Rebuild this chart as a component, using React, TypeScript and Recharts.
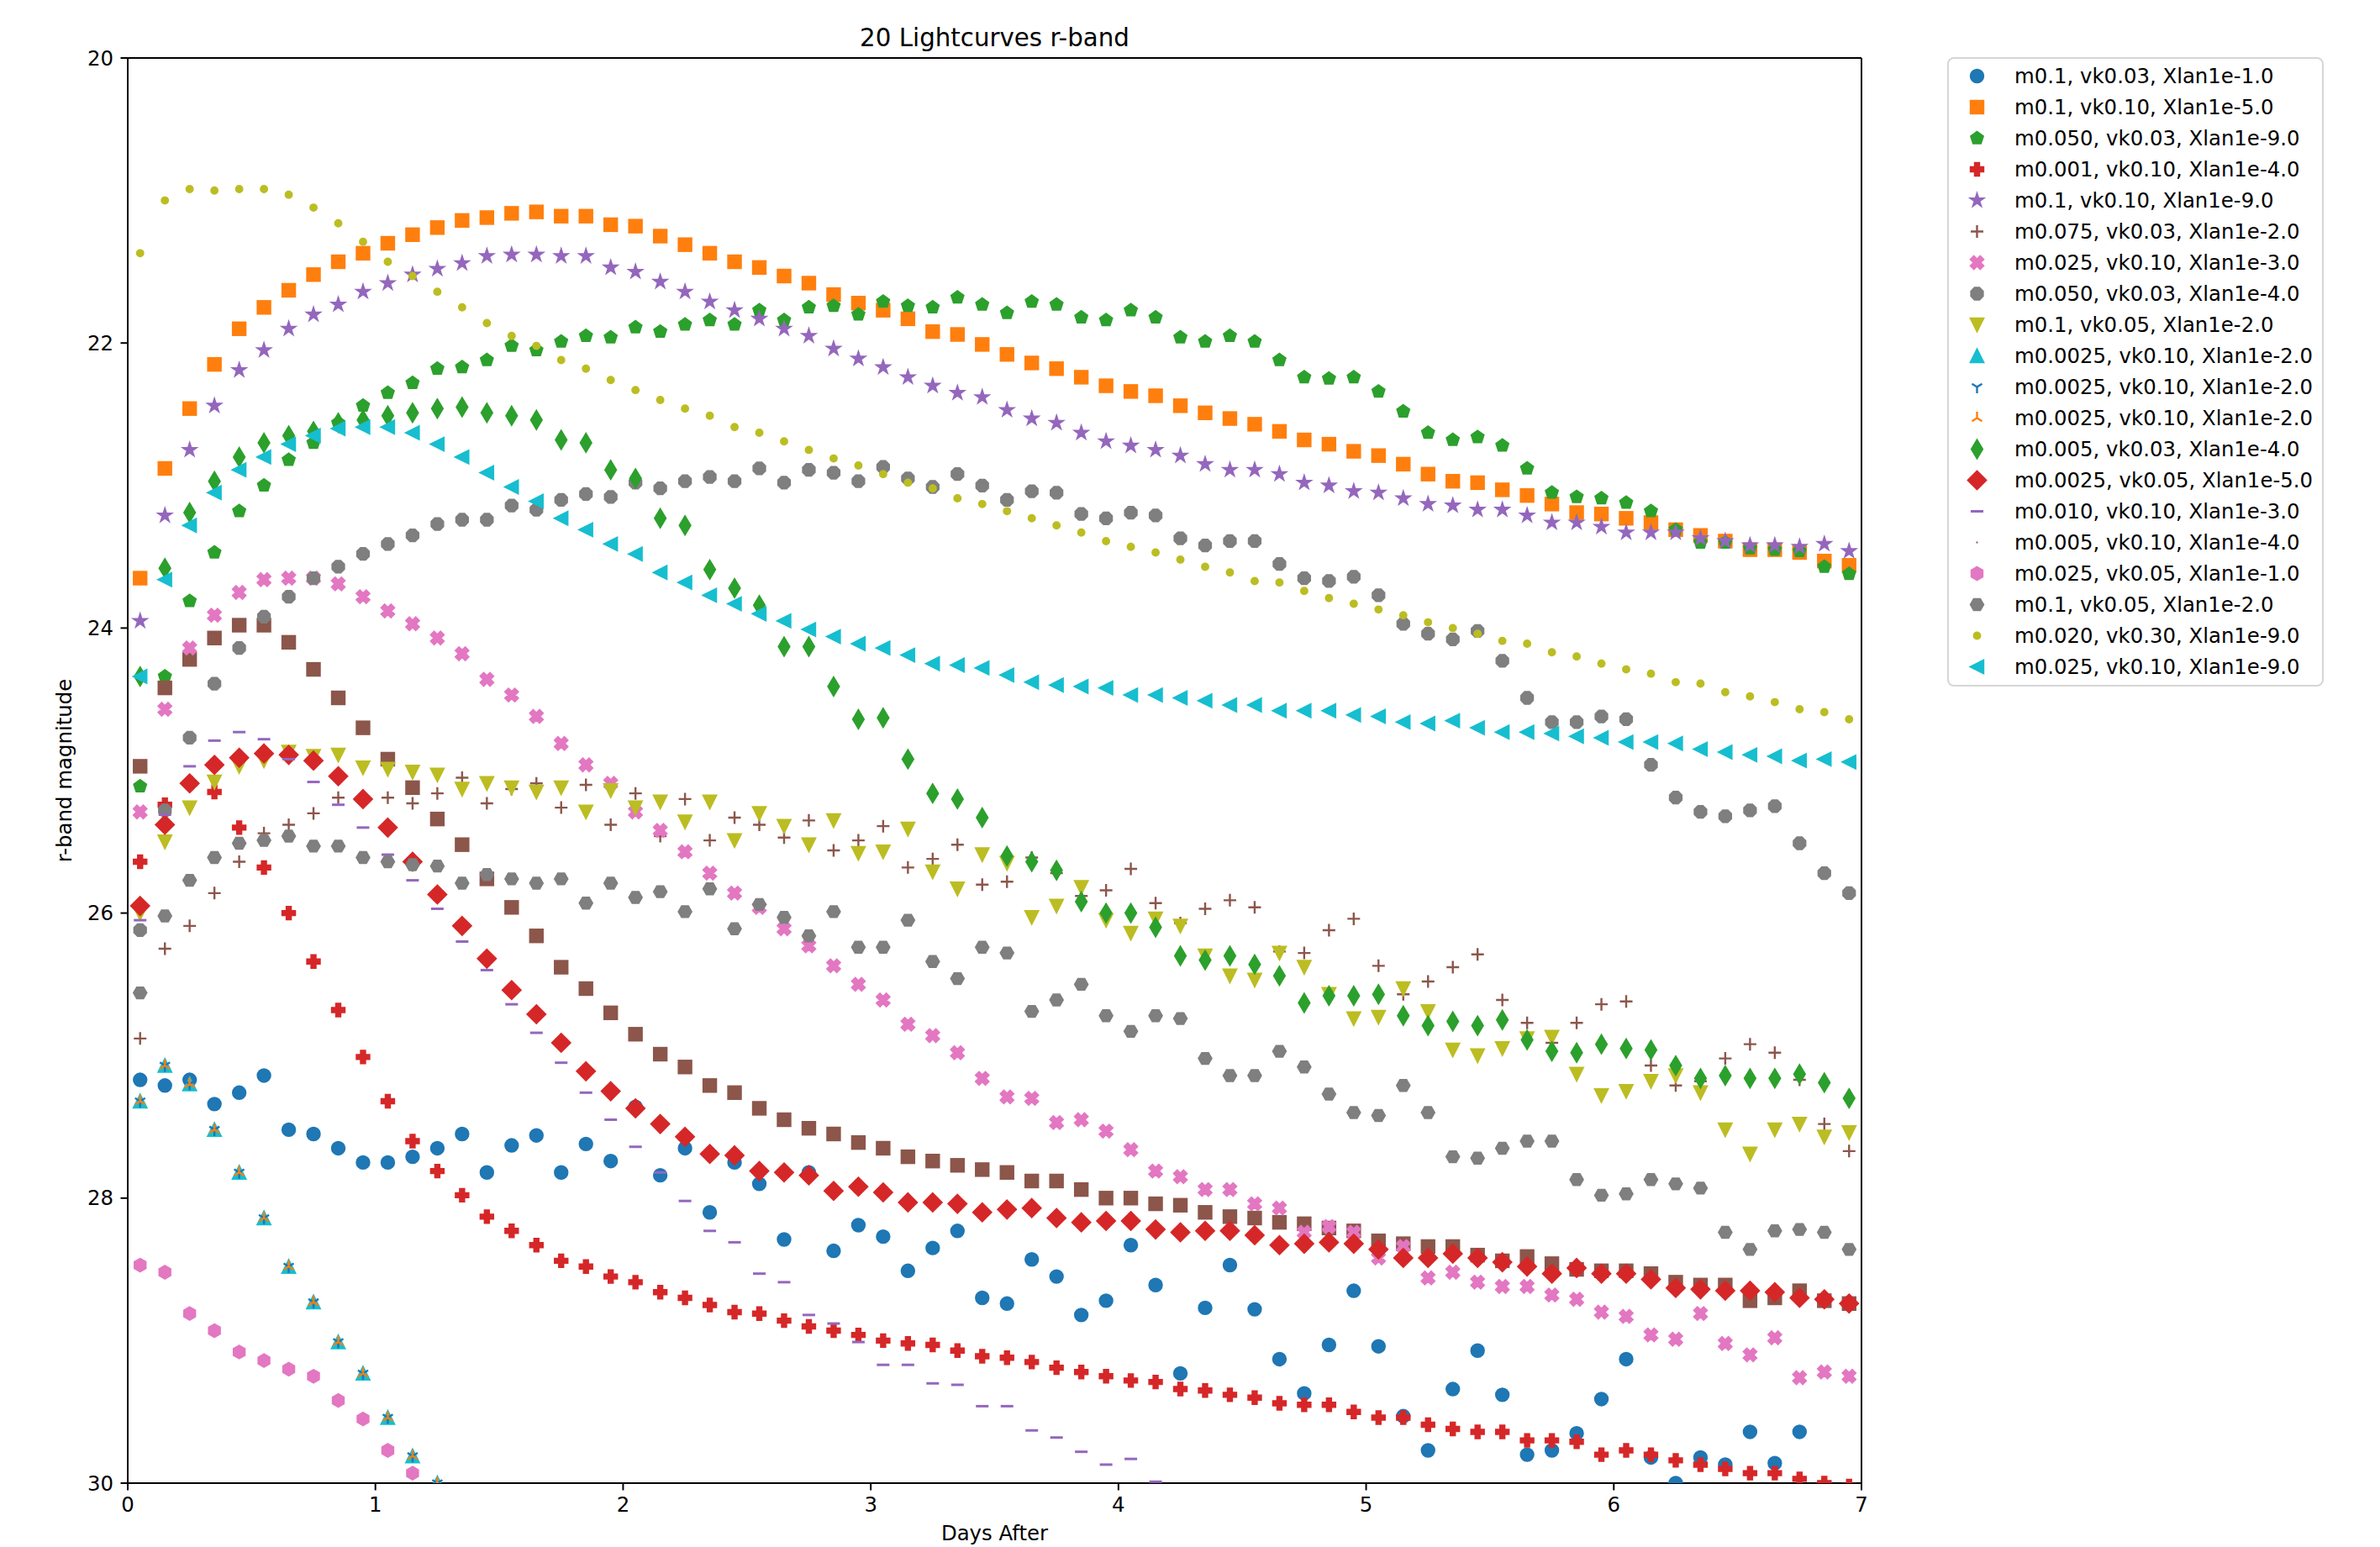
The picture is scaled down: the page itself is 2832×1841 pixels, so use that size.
import React from 'react';
import { ScatterChart, Scatter, XAxis, YAxis, ReferenceLine, Label } from 'recharts';

// sample times (days after merger)
const days = [
  0.05, 0.15, 0.25, 0.35, 0.45, 0.55, 0.65, 0.75, 0.85, 0.95,
  1.05, 1.15, 1.25, 1.35, 1.45, 1.55, 1.65, 1.75, 1.85, 1.95,
  2.05, 2.15, 2.25, 2.35, 2.45, 2.55, 2.65, 2.75, 2.85, 2.95,
  3.05, 3.15, 3.25, 3.35, 3.45, 3.55, 3.65, 3.75, 3.85, 3.95,
  4.05, 4.15, 4.25, 4.35, 4.45, 4.55, 4.65, 4.75, 4.85, 4.95,
  5.05, 5.15, 5.25, 5.35, 5.45, 5.55, 5.65, 5.75, 5.85, 5.95,
  6.05, 6.15, 6.25, 6.35, 6.45, 6.55, 6.65, 6.75, 6.85, 6.95,
];

const xTicks = [0, 1, 2, 3, 4, 5, 6, 7];
const yTicks = [20, 22, 24, 26, 28, 30];

// r-band magnitudes, one array per lightcurve (points fainter than 30 are not listed)
const m01_vk003_x1 = [
  27.17, 27.21, 27.17, 27.34, 27.26, 27.14, 27.52, 27.55, 27.65, 27.75,
  27.75, 27.71, 27.65, 27.55, 27.82, 27.63, 27.56, 27.82, 27.62, 27.74,
  27.36, 27.84, 27.65, 28.10, 27.75, 27.90, 28.29, 27.82, 28.37, 28.19,
  28.27, 28.51, 28.35, 28.23, 28.70, 28.74, 28.43, 28.55, 28.82, 28.72,
  28.33, 28.61, 29.23, 28.77, 28.47, 28.78, 29.13, 29.37, 29.03, 28.65,
  29.04, 29.53, 29.77, 29.34, 29.07, 29.38, 29.80, 29.77, 29.65, 29.41,
  29.13, 29.82, 30.00, 29.82, 29.87, 29.64, 29.86, 29.64,
];
const m01_vk010_x5 = [
  23.65, 22.88, 22.46, 22.15, 21.90, 21.75, 21.63, 21.52, 21.43, 21.37,
  21.30, 21.24, 21.19, 21.14, 21.12, 21.09, 21.08, 21.11, 21.11, 21.17,
  21.18, 21.25, 21.31, 21.37, 21.43, 21.47, 21.53, 21.58, 21.66, 21.72,
  21.77, 21.83, 21.92, 21.94, 22.01, 22.08, 22.14, 22.18, 22.24, 22.30,
  22.34, 22.37, 22.44, 22.49, 22.53, 22.57, 22.62, 22.68, 22.71, 22.76,
  22.79, 22.85, 22.92, 22.97, 22.98, 23.03, 23.07, 23.13, 23.19, 23.20,
  23.23, 23.26, 23.31, 23.35, 23.39, 23.45, 23.45, 23.47, 23.53, 23.56,
];
const m0050_vk003_x9 = [
  25.11, 24.34, 23.81, 23.47, 23.18, 23.00, 22.82, 22.70, 22.56, 22.44,
  22.35, 22.28, 22.18, 22.17, 22.12, 22.02, 22.05, 21.99, 21.95, 21.96,
  21.89, 21.92, 21.87, 21.84, 21.87, 21.77, 21.84, 21.75, 21.74, 21.80,
  21.71, 21.74, 21.75, 21.68, 21.73, 21.79, 21.71, 21.73, 21.82, 21.84,
  21.77, 21.82, 21.96, 21.99, 21.95, 21.99, 22.12, 22.24, 22.25, 22.24,
  22.34, 22.48, 22.63, 22.68, 22.66, 22.72, 22.88, 23.05, 23.08, 23.09,
  23.12, 23.18, 23.31, 23.40, 23.40, 23.44, 23.45, 23.46, 23.57, 23.62,
];
const m0001_vk010_x4 = [
  25.64, 25.24, 25.09, 25.15, 25.40, 25.68, 26.00, 26.34, 26.68, 27.01,
  27.32, 27.60, 27.81, 27.98, 28.13, 28.23, 28.33, 28.44, 28.48, 28.55,
  28.59, 28.66, 28.70, 28.75, 28.80, 28.81, 28.86, 28.90, 28.93, 28.96,
  29.00, 29.02, 29.03, 29.07, 29.11, 29.12, 29.15, 29.19, 29.22, 29.25,
  29.28, 29.29, 29.34, 29.35, 29.38, 29.40, 29.44, 29.45, 29.45, 29.50,
  29.54, 29.54, 29.59, 29.62, 29.64, 29.64, 29.70, 29.70, 29.71, 29.80,
  29.77, 29.80, 29.84, 29.87, 29.90, 29.93, 29.93, 29.97, 30.00, 30.02,
];
const m01_vk010_x9 = [
  23.95, 23.21, 22.75, 22.44, 22.19, 22.05, 21.90, 21.80, 21.73, 21.64,
  21.58, 21.52, 21.48, 21.44, 21.39, 21.38, 21.38, 21.39, 21.39, 21.47,
  21.50, 21.57, 21.64, 21.71, 21.77, 21.83, 21.90, 21.95, 22.04, 22.11,
  22.17, 22.24, 22.30, 22.35, 22.38, 22.47, 22.53, 22.56, 22.63, 22.69,
  22.72, 22.75, 22.79, 22.85, 22.89, 22.89, 22.92, 22.98, 23.00, 23.04,
  23.05, 23.09, 23.13, 23.14, 23.17, 23.17, 23.21, 23.26, 23.26, 23.29,
  23.33, 23.33, 23.33, 23.37, 23.39, 23.42, 23.42, 23.43, 23.41, 23.46,
];
const m0075_vk003_x2 = [
  26.88, 26.25, 26.09, 25.86, 25.64, 25.44, 25.38, 25.30, 25.19, 25.20,
  25.19, 25.23, 25.16, 25.05, 25.23, 25.13, 25.09, 25.26, 25.10, 25.38,
  25.16, 25.46, 25.20, 25.49, 25.33, 25.38, 25.47, 25.35, 25.56, 25.49,
  25.39, 25.68, 25.62, 25.52, 25.80, 25.78, 25.61, 25.72, 25.88, 25.84,
  25.69, 25.93, 26.07, 25.97, 25.91, 25.96, 26.27, 26.28, 26.12, 26.04,
  26.37, 26.57, 26.48, 26.38, 26.29, 26.61, 26.77, 26.91, 26.77, 26.64,
  26.62, 27.07, 27.21, 27.18, 27.02, 26.92, 26.98, 27.17, 27.48, 27.67,
];
// brown squares drawn in the figure without a legend entry
const unlabeledSquares = [
  24.97, 24.42, 24.22, 24.07, 23.98, 23.98, 24.10, 24.29, 24.49, 24.70,
  24.92, 25.12, 25.34, 25.52, 25.76, 25.96, 26.16, 26.38, 26.53, 26.70,
  26.85, 26.99, 27.08, 27.21, 27.26, 27.37, 27.45, 27.51, 27.55, 27.61,
  27.65, 27.71, 27.74, 27.77, 27.80, 27.82, 27.88, 27.88, 27.94, 28.00,
  28.00, 28.04, 28.05, 28.10, 28.13, 28.14, 28.17, 28.18, 28.21, 28.23,
  28.30, 28.32, 28.34, 28.34, 28.40, 28.44, 28.41, 28.46, 28.50, 28.51,
  28.51, 28.53, 28.59, 28.61, 28.61, 28.72, 28.70, 28.65, 28.72, 28.74,
];
const m0025_vk010_x3 = [
  25.29, 24.57, 24.14, 23.91, 23.75, 23.66, 23.65, 23.65, 23.69, 23.78,
  23.88, 23.97, 24.07, 24.18, 24.36, 24.47, 24.62, 24.81, 24.96, 25.09,
  25.29, 25.42, 25.57, 25.72, 25.86, 25.96, 26.11, 26.23, 26.37, 26.50,
  26.61, 26.78, 26.86, 26.98, 27.16, 27.29, 27.30, 27.47, 27.45, 27.53,
  27.66, 27.81, 27.85, 27.94, 27.94, 28.04, 28.07, 28.24, 28.20, 28.24,
  28.42, 28.34, 28.56, 28.52, 28.59, 28.62, 28.62, 28.68, 28.71, 28.80,
  28.83, 28.96, 28.99, 28.81, 29.02, 29.10, 28.98, 29.26, 29.22, 29.25,
];
const m0050_vk003_x4 = [
  26.12, 25.28, 24.77, 24.39, 24.14, 23.92, 23.78, 23.65, 23.57, 23.48,
  23.41, 23.35, 23.27, 23.24, 23.24, 23.14, 23.17, 23.10, 23.06, 23.08,
  22.98, 23.02, 22.97, 22.94, 22.97, 22.88, 22.98, 22.89, 22.91, 22.97,
  22.87, 22.95, 23.01, 22.92, 23.00, 23.10, 23.04, 23.05, 23.20, 23.23,
  23.19, 23.21, 23.37, 23.42, 23.39, 23.39, 23.55, 23.65, 23.67, 23.64,
  23.77, 23.97, 24.04, 24.08, 24.02, 24.23, 24.49, 24.66, 24.66, 24.62,
  24.64, 24.96, 25.19, 25.29, 25.32, 25.28, 25.25, 25.51, 25.72, 25.86,
];
const m01_vk005_x2 = [
  26.00, 25.50, 25.26, 25.08, 24.97, 24.93, 24.87, 24.90, 24.89, 24.98,
  24.99, 25.01, 25.03, 25.13, 25.09, 25.12, 25.15, 25.12, 25.29, 25.14,
  25.26, 25.22, 25.36, 25.22, 25.49, 25.30, 25.39, 25.52, 25.35, 25.58,
  25.57, 25.41, 25.71, 25.83, 25.59, 25.65, 26.03, 25.95, 25.82, 26.05,
  26.14, 26.04, 26.09, 26.30, 26.44, 26.47, 26.28, 26.38, 26.57, 26.74,
  26.73, 26.53, 26.69, 26.96, 27.00, 26.95, 26.88, 26.87, 27.13, 27.28,
  27.25, 27.18, 27.14, 27.26, 27.52, 27.69, 27.52, 27.48, 27.57, 27.54,
];
const m00025_vk010_x2 = [
  27.32, 27.07, 27.20, 27.52, 27.82, 28.14, 28.48, 28.73, 29.01, 29.23,
  29.54, 29.81, 30.00,
];
const m0005_vk003_x4 = [
  24.34, 23.58, 23.19, 22.97, 22.80, 22.70, 22.65, 22.62, 22.56, 22.54,
  22.51, 22.49, 22.46, 22.45, 22.49, 22.51, 22.54, 22.68, 22.70, 22.89,
  22.95, 23.23, 23.28, 23.59, 23.72, 23.84, 24.13, 24.13, 24.41, 24.64,
  24.63, 24.92, 25.16, 25.20, 25.33, 25.60, 25.64, 25.70, 25.92, 26.00,
  26.00, 26.10, 26.30, 26.33, 26.30, 26.36, 26.44, 26.63, 26.58, 26.58,
  26.57, 26.72, 26.79, 26.76, 26.79, 26.75, 26.89, 26.97, 26.98, 26.92,
  26.95, 26.96, 27.07, 27.16, 27.14, 27.16, 27.16, 27.13, 27.19, 27.30,
];
const m00025_vk005_x5 = [
  25.95, 25.38, 25.09, 24.96, 24.91, 24.88, 24.89, 24.93, 25.04, 25.20,
  25.40, 25.64, 25.87, 26.09, 26.32, 26.54, 26.71, 26.91, 27.11, 27.25,
  27.37, 27.48, 27.57, 27.69, 27.70, 27.81, 27.82, 27.84, 27.95, 27.92,
  27.96, 28.03, 28.03, 28.04, 28.10, 28.08, 28.07, 28.14, 28.17, 28.16,
  28.16, 28.22, 28.24, 28.23, 28.23, 28.26, 28.33, 28.32, 28.31, 28.32,
  28.36, 28.42, 28.42, 28.39, 28.42, 28.45, 28.48, 28.53, 28.49, 28.53,
  28.53, 28.57, 28.63, 28.64, 28.65, 28.65, 28.66, 28.70, 28.71, 28.74,
];
const m0010_vk010_x3 = [
  26.05, 25.31, 24.97, 24.79, 24.73, 24.78, 24.92, 25.08, 25.24, 25.40,
  25.59, 25.77, 25.97, 26.20, 26.40, 26.64, 26.84, 27.05, 27.26, 27.45,
  27.64, 27.82, 28.02, 28.23, 28.31, 28.53, 28.59, 28.82, 28.88, 29.01,
  29.17, 29.17, 29.30, 29.31, 29.46, 29.46, 29.63, 29.68, 29.78, 29.87,
  29.83, 29.99,
];
const m0005_vk010_x4: number[] = [];
const m0025_vk005_x1 = [
  28.47, 28.52, 28.81, 28.93, 29.08, 29.14, 29.20, 29.25, 29.42, 29.55,
  29.77, 29.93,
];
const m01_vk005_x2_b = [
  26.56, 26.02, 25.77, 25.61, 25.51, 25.49, 25.46, 25.53, 25.53, 25.61,
  25.64, 25.66, 25.67, 25.79, 25.73, 25.76, 25.79, 25.76, 25.93, 25.79,
  25.89, 25.85, 25.99, 25.83, 26.11, 25.94, 26.03, 26.16, 25.99, 26.24,
  26.24, 26.05, 26.34, 26.46, 26.24, 26.28, 26.69, 26.61, 26.50, 26.72,
  26.83, 26.72, 26.74, 27.02, 27.14, 27.14, 26.97, 27.08, 27.27, 27.40,
  27.42, 27.21, 27.40, 27.71, 27.72, 27.65, 27.60, 27.60, 27.87, 27.98,
  27.97, 27.87, 27.90, 27.93, 28.24, 28.36, 28.23, 28.22, 28.24, 28.36,
];
const m0020_vk030_x9 = [
  21.37, 21.00, 20.92, 20.93, 20.92, 20.92, 20.96, 21.05, 21.16, 21.29,
  21.43, 21.53, 21.64, 21.75, 21.86, 21.95, 22.02, 22.12, 22.18, 22.26,
  22.33, 22.40, 22.46, 22.51, 22.59, 22.63, 22.69, 22.75, 22.81, 22.86,
  22.92, 22.98, 23.02, 23.09, 23.13, 23.18, 23.23, 23.28, 23.33, 23.39,
  23.43, 23.47, 23.52, 23.57, 23.61, 23.67, 23.68, 23.74, 23.79, 23.83,
  23.87, 23.91, 23.96, 24.00, 24.04, 24.09, 24.11, 24.17, 24.20, 24.25,
  24.29, 24.32, 24.38, 24.39, 24.45, 24.48, 24.52, 24.57, 24.59, 24.64,
];
const m0025_vk010_x9 = [
  24.34, 23.66, 23.28, 23.05, 22.89, 22.80, 22.71, 22.65, 22.60, 22.59,
  22.59, 22.63, 22.71, 22.80, 22.91, 23.01, 23.11, 23.23, 23.31, 23.41,
  23.48, 23.61, 23.68, 23.77, 23.83, 23.90, 23.95, 24.01, 24.06, 24.11,
  24.14, 24.19, 24.25, 24.26, 24.28, 24.33, 24.38, 24.40, 24.41, 24.42,
  24.47, 24.47, 24.49, 24.51, 24.54, 24.54, 24.58, 24.58, 24.58, 24.61,
  24.62, 24.66, 24.67, 24.65, 24.70, 24.73, 24.73, 24.74, 24.76, 24.77,
  24.80, 24.80, 24.81, 24.85, 24.87, 24.89, 24.90, 24.93, 24.92, 24.94,
];

type Kind =
  | 'o' | 's' | 'p' | 'P' | '*' | '+' | 'X' | '8' | 'v' | '^'
  | '1' | '2' | 'd' | 'D' | '_' | ',' | 'h' | 'H' | '.' | '<';

interface Series {
  name: string | null;
  values: number[];
  color: string;
  marker: Kind;
}

const series: Series[] = [
  { name: 'm0.1, vk0.03, Xlan1e-1.0', values: m01_vk003_x1, color: '#1f77b4', marker: 'o' },
  { name: 'm0.1, vk0.10, Xlan1e-5.0', values: m01_vk010_x5, color: '#ff7f0e', marker: 's' },
  { name: 'm0.050, vk0.03, Xlan1e-9.0', values: m0050_vk003_x9, color: '#2ca02c', marker: 'p' },
  { name: 'm0.001, vk0.10, Xlan1e-4.0', values: m0001_vk010_x4, color: '#d62728', marker: 'P' },
  { name: 'm0.1, vk0.10, Xlan1e-9.0', values: m01_vk010_x9, color: '#9467bd', marker: '*' },
  { name: 'm0.075, vk0.03, Xlan1e-2.0', values: m0075_vk003_x2, color: '#8c564b', marker: '+' },
  { name: null, values: unlabeledSquares, color: '#8c564b', marker: 's' },
  { name: 'm0.025, vk0.10, Xlan1e-3.0', values: m0025_vk010_x3, color: '#e377c2', marker: 'X' },
  { name: 'm0.050, vk0.03, Xlan1e-4.0', values: m0050_vk003_x4, color: '#7f7f7f', marker: '8' },
  { name: 'm0.1, vk0.05, Xlan1e-2.0', values: m01_vk005_x2, color: '#bcbd22', marker: 'v' },
  { name: 'm0.0025, vk0.10, Xlan1e-2.0', values: m00025_vk010_x2, color: '#17becf', marker: '^' },
  { name: 'm0.0025, vk0.10, Xlan1e-2.0', values: m00025_vk010_x2, color: '#1f77b4', marker: '1' },
  { name: 'm0.0025, vk0.10, Xlan1e-2.0', values: m00025_vk010_x2, color: '#ff7f0e', marker: '2' },
  { name: 'm0.005, vk0.03, Xlan1e-4.0', values: m0005_vk003_x4, color: '#2ca02c', marker: 'd' },
  { name: 'm0.0025, vk0.05, Xlan1e-5.0', values: m00025_vk005_x5, color: '#d62728', marker: 'D' },
  { name: 'm0.010, vk0.10, Xlan1e-3.0', values: m0010_vk010_x3, color: '#9467bd', marker: '_' },
  { name: 'm0.005, vk0.10, Xlan1e-4.0', values: m0005_vk010_x4, color: '#8c564b', marker: ',' },
  { name: 'm0.025, vk0.05, Xlan1e-1.0', values: m0025_vk005_x1, color: '#e377c2', marker: 'h' },
  { name: 'm0.1, vk0.05, Xlan1e-2.0', values: m01_vk005_x2_b, color: '#7f7f7f', marker: 'H' },
  { name: 'm0.020, vk0.30, Xlan1e-9.0', values: m0020_vk030_x9, color: '#bcbd22', marker: '.' },
  { name: 'm0.025, vk0.10, Xlan1e-9.0', values: m0025_vk010_x9, color: '#17becf', marker: '<' },
];

const FONT = 'DejaVu Sans, Verdana, sans-serif';
const SIZE = 15; // marker size, px
const EDGE = 2.4;

function pts(cx: number, cy: number, list: number[][]) {
  return list.map(([x, y]) => `${cx + x},${cy + y}`).join(' ');
}

function regular(n: number, r: number, rot: number) {
  const out: number[][] = [];
  for (let k = 0; k < n; k++) {
    const a = rot + (2 * Math.PI * k) / n;
    out.push([r * Math.sin(a), -r * Math.cos(a)]);
  }
  return out;
}

function starPts(r: number) {
  const out: number[][] = [];
  for (let k = 0; k < 10; k++) {
    const a = (Math.PI * k) / 5;
    const rr = k % 2 === 0 ? r : r * 0.381966;
    out.push([rr * Math.sin(a), -rr * Math.cos(a)]);
  }
  return out;
}

function Marker({ kind, color, cx, cy }: { kind: Kind; color: string; cx: number; cy: number }) {
  if (cx == null || cy == null || isNaN(cx) || isNaN(cy)) return null;
  const h = SIZE / 2;
  const filled = { fill: color, stroke: color, strokeWidth: EDGE };
  const stroked = { fill: 'none', stroke: color, strokeWidth: EDGE };
  const d = h * Math.SQRT2;
  const a = h / 3;
  const u = SIZE / 4;
  switch (kind) {
    case 'o':
      return <circle cx={cx} cy={cy} r={h} {...filled} />;
    case '.':
      return <circle cx={cx} cy={cy} r={h / 2} {...filled} />;
    case ',':
      return <rect x={cx - 1} y={cy - 1} width={2} height={2} fill={color} />;
    case 's':
      return <rect x={cx - h} y={cy - h} width={SIZE} height={SIZE} {...filled} />;
    case 'p':
      return <polygon points={pts(cx, cy, regular(5, h, 0))} {...filled} />;
    case 'h':
      return <polygon points={pts(cx, cy, regular(6, h, 0))} {...filled} />;
    case 'H':
      return <polygon points={pts(cx, cy, regular(6, h, Math.PI / 6))} {...filled} />;
    case '8':
      return <polygon points={pts(cx, cy, regular(8, h, Math.PI / 8))} {...filled} />;
    case '*':
      return <polygon points={pts(cx, cy, starPts(h))} {...filled} />;
    case '^':
      return <polygon points={pts(cx, cy, [[0, -h], [-h, h], [h, h]])} {...filled} />;
    case 'v':
      return <polygon points={pts(cx, cy, [[0, h], [-h, -h], [h, -h]])} {...filled} />;
    case '<':
      return <polygon points={pts(cx, cy, [[-h, 0], [h, -h], [h, h]])} {...filled} />;
    case 'D':
      return <polygon points={pts(cx, cy, [[0, -d], [d, 0], [0, d], [-d, 0]])} {...filled} />;
    case 'd':
      return <polygon points={pts(cx, cy, [[0, -d], [0.6 * d, 0], [0, d], [-0.6 * d, 0]])} {...filled} />;
    case 'P':
      return (
        <polygon
          points={pts(cx, cy, [
            [-a, -h], [a, -h], [a, -a], [h, -a], [h, a], [a, a],
            [a, h], [-a, h], [-a, a], [-h, a], [-h, -a], [-a, -a],
          ])}
          {...filled}
        />
      );
    case 'X':
      return (
        <polygon
          points={pts(
            cx,
            cy,
            [
              [-1, -2], [0, -1], [1, -2], [2, -1], [1, 0], [2, 1],
              [1, 2], [0, 1], [-1, 2], [-2, 1], [-1, 0], [-2, -1],
            ].map(([x, y]) => [x * u, y * u]),
          )}
          {...filled}
        />
      );
    case '+':
      return <path d={`M${cx - h},${cy}H${cx + h}M${cx},${cy - h}V${cy + h}`} {...stroked} />;
    case '_':
      return <path d={`M${cx - h},${cy}H${cx + h}`} {...stroked} strokeWidth={3} />;
    case '1':
      return (
        <path
          d={`M${cx},${cy}v${h}M${cx},${cy}l${0.8 * h},${-0.5 * h}M${cx},${cy}l${-0.8 * h},${-0.5 * h}`}
          {...stroked}
        />
      );
    case '2':
      return (
        <path
          d={`M${cx},${cy}v${-h}M${cx},${cy}l${0.8 * h},${0.5 * h}M${cx},${cy}l${-0.8 * h},${0.5 * h}`}
          {...stroked}
        />
      );
    default:
      return null;
  }
}

const W = 2816;
const H = 1833;
const margin = { top: 61, right: 609, bottom: 0, left: 44 };

export default function App() {
  const legendItems = series.filter((s) => s.name !== null);
  const legendX = 2310;
  const legendY = 61;

  return (
    <div style={{ position: 'relative', width: W, height: H, fontFamily: FONT }}>
      <ScatterChart width={W} height={H} margin={margin}>
        <XAxis
          type="number"
          dataKey="x"
          domain={[0, 7]}
          ticks={xTicks}
          allowDataOverflow
          height={76}
          stroke="#000"
          axisLine={{ stroke: '#000', strokeWidth: 2 }}
          tickLine={{ stroke: '#000', strokeWidth: 2 }}
          tickSize={8.5}
          tickMargin={8.5}
          tick={{ fill: '#000', fontSize: 24.4, fontFamily: FONT }}
        >
          <Label
            content={(p: any) => {
              const vb = p.viewBox || {};
              return (
                <text x={vb.x + vb.width / 2} y={vb.y + 68} textAnchor="middle" fontSize={24.4} fontFamily={FONT} fill="#000">
                  Days After
                </text>
              );
            }}
          />
        </XAxis>
        <YAxis
          type="number"
          dataKey="y"
          domain={[20, 30]}
          ticks={yTicks}
          reversed
          allowDataOverflow
          width={100}
          stroke="#000"
          axisLine={{ stroke: '#000', strokeWidth: 2 }}
          tickLine={{ stroke: '#000', strokeWidth: 2 }}
          tickSize={8.5}
          tickMargin={8.5}
          tick={{ fill: '#000', fontSize: 24.4, fontFamily: FONT }}
        >
          <Label
            content={(p: any) => {
              const vb = p.viewBox || {};
              const x = vb.x + 33;
              const y = vb.y + vb.height / 2;
              return (
                <text x={x} y={y} transform={`rotate(-90 ${x} ${y})`} textAnchor="middle" fontSize={24.4} fontFamily={FONT} fill="#000">
                  r-band magnitude
                </text>
              );
            }}
          />
        </YAxis>
        {series.map((s, idx) => (
          <Scatter
            key={idx}
            name={s.name ?? 'unlabeled'}
            data={s.values.map((v, i) => ({ x: days[i], y: v }))}
            isAnimationActive={false}
            legendType="none"
            shape={(p: any) => <Marker kind={s.marker} color={s.color} cx={p.cx} cy={p.cy} />}
          />
        ))}
        <ReferenceLine y={20} stroke="#000" strokeWidth={2} />
        <ReferenceLine x={7} stroke="#000" strokeWidth={2} />
      </ScatterChart>
      <svg
        width={W}
        height={H}
        style={{ position: 'absolute', left: 0, top: 0, pointerEvents: 'none' }}
      >
        <text x={1175.5} y={47} textAnchor="middle" fontSize={29.3} fontFamily={FONT} fill="#000">
          20 Lightcurves r-band
        </text>
        <rect
          x={legendX}
          y={legendY}
          width={446}
          height={747}
          rx={7}
          fill="#fff"
          fillOpacity={0.8}
          stroke="#d6d6d6"
          strokeWidth={2}
        />
        {legendItems.map((s, k) => (
          <g key={k}>
            <Marker kind={s.marker} color={s.color} cx={legendX + 34.5} cy={legendY + 21.5 + 37 * k} />
            <text x={legendX + 79} y={legendY + 30.3 + 37 * k} fontSize={24.4} fontFamily={FONT} fill="#000">
              {s.name}
            </text>
          </g>
        ))}
      </svg>
    </div>
  );
}
